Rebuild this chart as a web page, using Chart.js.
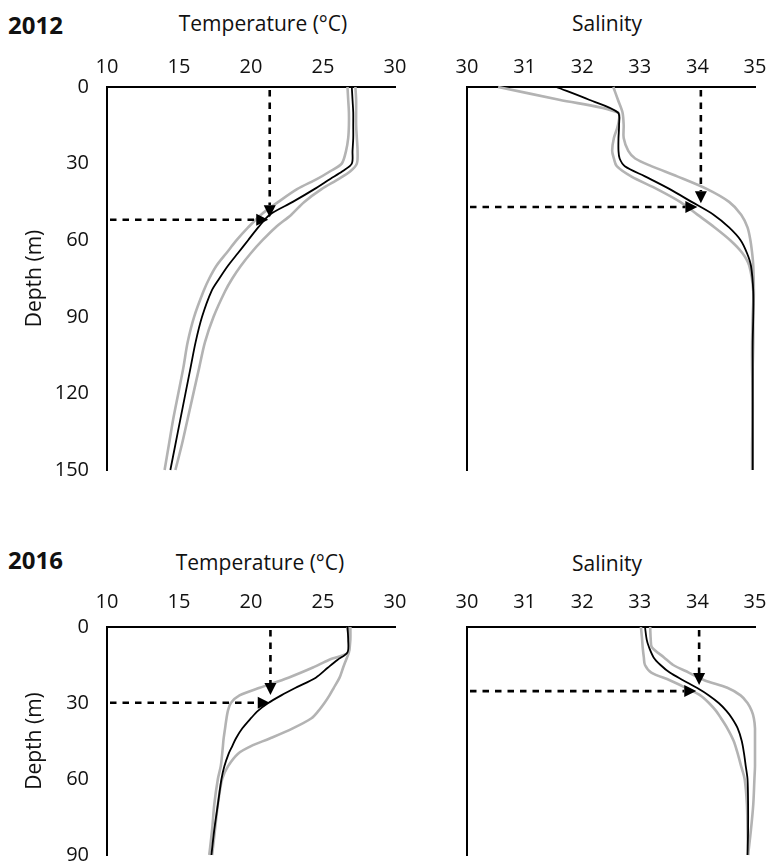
<!DOCTYPE html>
<html lang="en">
<head>
<meta charset="UTF-8">
<title>Temperature and salinity profiles, 2012 and 2016</title>
<script src="https://cdn.jsdelivr.net/npm/chart.js@4.4.1/dist/chart.umd.min.js"></script>
<style>
  body { margin: 0; background: #fff; font-family: "Open Sans", sans-serif; }
  #page { position: relative; width: 772px; height: 864px; overflow: hidden; }
  .panel { position: absolute; }
  .lbl { position: absolute; color: #111; white-space: nowrap; line-height: 30px; height: 30px; }
  .year { font-weight: bold; font-size: 24px; }
  .ttl { font-size: 21px; transform: translateX(-50%); }
</style>
</head>
<body>
<div id="page">
  <div class="lbl year" style="left:8px; top:10px;">2012</div>
  <div class="lbl ttl" style="left:263px; top:8px;">Temperature (°C)</div>
  <div class="lbl ttl" style="left:607px; top:8px;">Salinity</div>
  <div class="lbl year" style="left:8px; top:545px;">2016</div>
  <div class="lbl ttl" style="left:260px; top:547px;">Temperature (°C)</div>
  <div class="lbl ttl" style="left:607px; top:548px;">Salinity</div>

  <!-- canvases are a bit larger than the plot boxes so the tick labels never push the axes in -->
  <div class="panel" style="left:0; top:40px;"><canvas id="t2012" width="420" height="470"></canvas></div>
  <div class="panel" style="left:400px; top:40px;"><canvas id="s2012" width="385" height="470"></canvas></div>
  <div class="panel" style="left:0; top:580px;"><canvas id="t2016" width="420" height="315"></canvas></div>
  <div class="panel" style="left:400px; top:580px;"><canvas id="s2016" width="385" height="315"></canvas></div>
</div>

<script>
// ---- 2012 temperature (mean and +/- sd) ----
const depth2012T = [0, 5, 10, 15, 20, 25, 30, 33, 36, 40, 45, 50, 55, 60, 65, 70, 75, 80, 90, 100, 110, 120, 130, 140, 150];
const temp2012Mean = [27.0, 27.05, 27.1, 27.1, 27.1, 27.05, 27.0, 26.35, 25.5, 24.4, 22.9, 21.3, 20.5, 19.8, 19.1, 18.4, 17.8, 17.25, 16.6, 16.15, 15.8, 15.45, 15.1, 14.75, 14.4];
const temp2012Low = [26.7, 26.75, 26.8, 26.8, 26.75, 26.6, 26.3, 25.5, 24.6, 23.2, 21.9, 20.7, 19.8, 19.0, 18.3, 17.6, 17.1, 16.7, 16.05, 15.6, 15.3, 14.95, 14.6, 14.3, 14.0];
const temp2012High = [27.25, 27.3, 27.3, 27.3, 27.35, 27.4, 27.35, 26.9, 26.1, 24.9, 23.7, 22.8, 21.7, 20.8, 20.0, 19.3, 18.7, 18.2, 17.4, 16.8, 16.4, 16.0, 15.6, 15.2, 14.75];

// ---- 2012 salinity ----
const depth2012S = [0, 5, 10, 15, 20, 25, 28, 31, 35, 40, 45, 50, 55, 60, 65, 70, 80, 90, 100, 110, 120, 130, 140, 150];
const sal2012Mean = [31.55, 32.12, 32.62, 32.64, 32.63, 32.63, 32.65, 32.74, 33.09, 33.52, 33.9, 34.28, 34.55, 34.75, 34.86, 34.93, 34.97, 34.97, 34.96, 34.96, 34.96, 34.96, 34.96, 34.96];
const sal2012Low = [30.54, 31.6, 32.62, 32.62, 32.55, 32.52, 32.55, 32.6, 32.85, 33.3, 33.7, 34.0, 34.3, 34.57, 34.78, 34.9, 34.97, 34.96, 34.95, 34.95, 34.96, 34.96, 34.95, 34.95];
const sal2012High = [32.54, 32.62, 32.7, 32.72, 32.72, 32.8, 32.92, 33.2, 33.65, 34.17, 34.55, 34.76, 34.87, 34.92, 34.95, 34.97, 34.98, 34.97, 34.97, 34.96, 34.96, 34.96, 34.96, 34.96];

// ---- 2016 temperature ----
const depth2016T = [0, 5, 10, 13, 16, 20, 24, 27, 30, 33, 36, 40, 44, 47, 50, 55, 60, 70, 80, 90];
const temp2016Mean = [26.7, 26.75, 26.7, 26.0, 25.35, 24.5, 23.1, 22.1, 21.2, 20.5, 20.0, 19.4, 18.95, 18.7, 18.45, 18.15, 17.95, 17.7, 17.45, 17.25];
const temp2016Low = [26.7, 26.8, 26.75, 25.4, 24.3, 22.6, 20.6, 19.2, 18.6, 18.4, 18.3, 18.2, 18.1, 18.05, 18.0, 17.9, 17.7, 17.45, 17.3, 17.1];
const temp2016High = [26.9, 26.9, 26.8, 26.6, 26.4, 26.15, 25.75, 25.45, 25.1, 24.7, 24.2, 22.9, 21.3, 20.0, 19.1, 18.4, 18.0, 17.7, 17.5, 17.3];

// ---- 2016 salinity ----
const depth2016S = [0, 5, 8, 12, 15, 18, 21, 24, 27, 30, 33, 36, 40, 45, 50, 55, 60, 70, 80, 90];
const sal2016Mean = [33.09, 33.12, 33.16, 33.24, 33.36, 33.52, 33.75, 33.99, 34.2, 34.37, 34.5, 34.6, 34.7, 34.77, 34.81, 34.84, 34.87, 34.88, 34.88, 34.87];
const sal2016Low = [33.02, 33.04, 33.05, 33.07, 33.09, 33.2, 33.52, 33.8, 34.05, 34.2, 34.32, 34.41, 34.52, 34.63, 34.7, 34.76, 34.82, 34.86, 34.87, 34.88];
const sal2016High = [33.18, 33.19, 33.21, 33.42, 33.58, 33.85, 34.12, 34.52, 34.75, 34.87, 34.94, 34.98, 35.0, 35.0, 35.0, 35.0, 34.99, 34.97, 34.93, 34.88];

// dashed guide arrows: [x of vertical arrow, depth of its tip, depth of horizontal arrow, x of its tip]
const arrowT2012 = [21.3, 51, 52, 21.2];
const arrowS2012 = [34.06, 45.5, 47, 34.0];
const arrowT2016 = [21.35, 26.8, 29.9, 21.3];
const arrowS2016 = [34.03, 22.9, 25.3, 33.98];

Chart.defaults.font.family = '"Open Sans", sans-serif';
Chart.defaults.color = '#111';

const guideArrows = {
  id: 'guideArrows',
  afterDatasetsDraw(chart, args, opts) {
    const { ctx, scales: { x, y } } = chart;
    const a = opts.at;
    const px = x.getPixelForValue(a[0]);
    const tipY = y.getPixelForValue(a[1]);
    const py = y.getPixelForValue(a[2]);
    const tipX = x.getPixelForValue(a[3]);
    const y0 = y.getPixelForValue(0);
    const x0 = x.getPixelForValue(x.min);
    const L = 12, W = 6;
    ctx.save();
    ctx.strokeStyle = '#000';
    ctx.fillStyle = '#000';
    ctx.lineWidth = 2.6;
    ctx.setLineDash([6.5, 6]);
    ctx.beginPath();
    ctx.moveTo(px, y0 + 3);
    ctx.lineTo(px, tipY - L);
    ctx.stroke();
    ctx.beginPath();
    ctx.moveTo(x0 + 3, py);
    ctx.lineTo(tipX - L, py);
    ctx.stroke();
    ctx.setLineDash([]);
    ctx.beginPath();
    ctx.moveTo(px - W, tipY - L);
    ctx.lineTo(px + W, tipY - L);
    ctx.lineTo(px, tipY);
    ctx.closePath();
    ctx.fill();
    ctx.beginPath();
    ctx.moveTo(tipX - L, py - W);
    ctx.lineTo(tipX - L, py + W);
    ctx.lineTo(tipX, py);
    ctx.closePath();
    ctx.fill();
    ctx.restore();
  }
};

function pts(xs, ds) {
  return ds.map((d, i) => ({ x: xs[i], y: d }));
}

function profile(id, depths, mean, low, high, cfg) {
  const line = (data, color, width) => ({
    data: pts(data, depths),
    borderColor: color,
    borderWidth: width,
    pointRadius: 0,
    tension: 0.3,
    fill: false,
    clip: false
  });
  new Chart(document.getElementById(id), {
    type: 'line',
    data: {
      datasets: [
        line(mean, '#000', 1.8),
        line(low, '#b3b3b3', 2.6),
        line(high, '#b3b3b3', 2.6)
      ]
    },
    plugins: [guideArrows],
    options: {
      responsive: false,
      animation: false,
      indexAxis: 'y',
      layout: { padding: { left: 0, top: 0, right: cfg.padRight, bottom: cfg.padBottom } },
      plugins: {
        legend: { display: false },
        tooltip: { enabled: false },
        guideArrows: { at: cfg.arrow }
      },
      scales: {
        x: {
          type: 'linear',
          position: 'top',
          min: cfg.xMin,
          max: cfg.xMax,
          ticks: { stepSize: cfg.xStep, padding: cfg.xPad, maxRotation: 0, autoSkip: false, font: { size: 20 } },
          grid: { display: false, drawTicks: false },
          border: { display: true, color: '#000', width: 2 },
          afterFit: s => { s.height = 47; }
        },
        y: {
          type: 'linear',
          reverse: true,
          min: 0,
          max: cfg.yMax,
          ticks: { display: cfg.showDepth, stepSize: 30, padding: 18, font: { size: 20 } },
          title: { display: cfg.showDepth, text: 'Depth (m)', font: { size: 21 }, padding: { top: 22, bottom: 0 } },
          grid: { display: false, drawTicks: false },
          border: { display: true, color: '#000', width: 2 },
          afterFit: s => { s.width = cfg.yWidth; }
        }
      }
    }
  });
}

profile('t2012', depth2012T, temp2012Mean, temp2012Low, temp2012High,
  { xMin: 10, xMax: 30, xStep: 5, yMax: 150, xPad: 8, showDepth: true, yWidth: 107, padRight: 25, padBottom: 40, arrow: arrowT2012 });
profile('s2012', depth2012S, sal2012Mean, sal2012Low, sal2012High,
  { xMin: 30, xMax: 35, xStep: 1, yMax: 150, xPad: 8, showDepth: false, yWidth: 67, padRight: 30, padBottom: 40, arrow: arrowS2012 });
profile('t2016', depth2016T, temp2016Mean, temp2016Low, temp2016High,
  { xMin: 10, xMax: 30, xStep: 5, yMax: 90, xPad: 13, showDepth: true, yWidth: 107, padRight: 25, padBottom: 40, arrow: arrowT2016 });
profile('s2016', depth2016S, sal2016Mean, sal2016Low, sal2016High,
  { xMin: 30, xMax: 35, xStep: 1, yMax: 90, xPad: 13, showDepth: false, yWidth: 67, padRight: 30, padBottom: 40, arrow: arrowS2016 });
</script>
</body>
</html>
